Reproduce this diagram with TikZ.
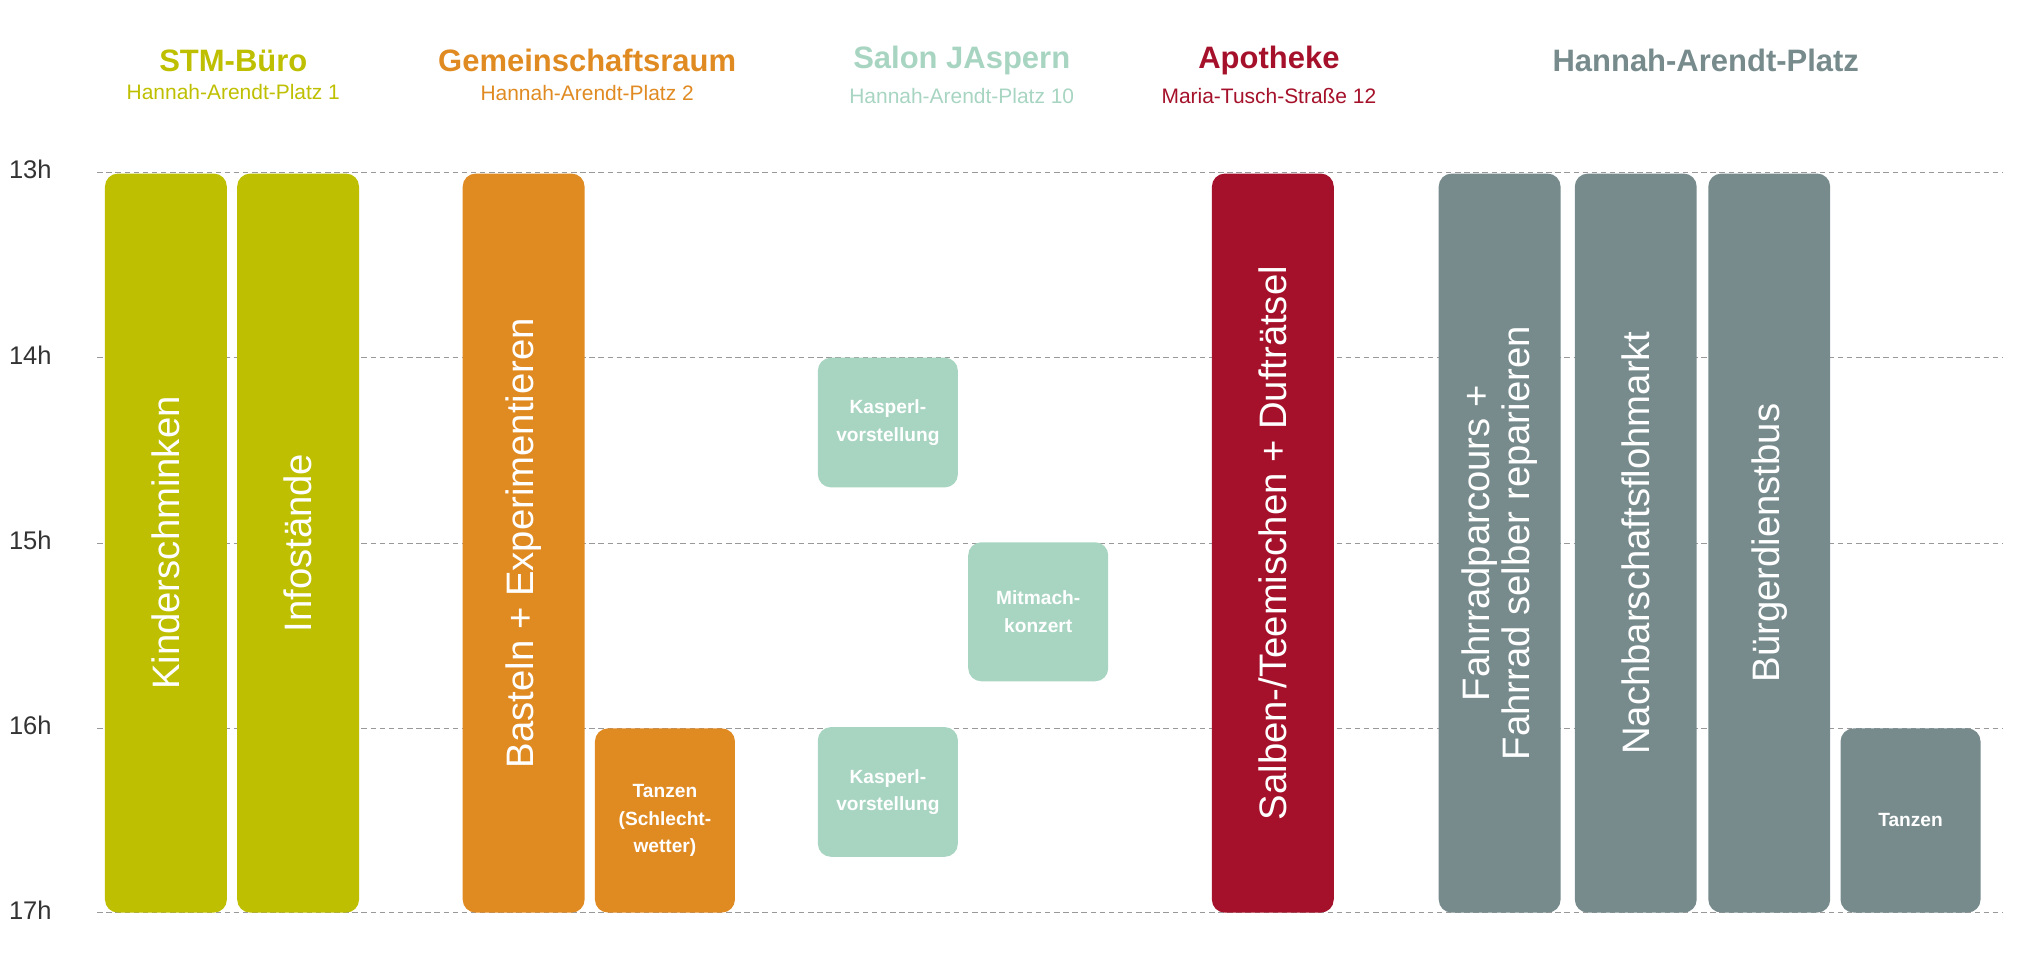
\documentclass[tikz,border=0pt]{standalone}
\usepackage{fontspec}
\setmainfont{Liberation Sans}
\usetikzlibrary{positioning}
\definecolor{lime}{HTML}{BEBF00}
\definecolor{orng}{HTML}{E08A22}
\definecolor{mint}{HTML}{A8D5C2}
\definecolor{wine}{HTML}{A5112A}
\definecolor{slate}{HTML}{778B8D}
\tikzset{
  head/.style={font=\bfseries\fontsize{17}{20}\selectfont},
  sub/.style={font=\fontsize{11.5}{14}\selectfont},
  hour/.style={font=\fontsize{14}{16}\selectfont, text=black!80, anchor=west},
  tall/.style={rectangle, rounded corners=0.25cm, fill=#1, text=white, rotate=90,
    minimum width=14.25cm, minimum height=2.35cm, inner sep=0pt,
    font=\fontsize{21}{22}\selectfont, align=center},
  box/.style={rectangle, rounded corners=0.25cm, fill=#1, text=white,
    minimum width=2.7cm, minimum height=2.5cm, inner sep=0pt,
    font=\bfseries\fontsize{10.5}{15}\selectfont, align=center},
}
\begin{document}
\begin{tikzpicture}[x=0.025cm, y=-0.025cm]
  \useasboundingbox (0,0) rectangle (1560,735);
  % hour grid
  \foreach \h/\y in {13/133,14/276,15/419,16/562,17/704}{
    \draw[black!40, densely dashed, line width=0.4pt] (75,\y) -- (1545,\y);
    \node[hour] at (2,\y-2) {\h h};
  }
  % headers
  \node[head, text=lime] (stm) at (180,47) {STM-Büro};
  \node[sub, text=lime, below=0pt of stm] {Hannah-Arendt-Platz 1};
  \node[head, text=orng] (gem) at (453,47) {Gemeinschaftsraum};
  \node[sub, text=orng, below=0pt of gem] {Hannah-Arendt-Platz 2};
  \node[head, text=mint] (sal) at (742,47) {Salon JAspern};
  \node[sub, text=mint, below=0pt of sal] {Hannah-Arendt-Platz 10};
  \node[head, text=wine] (apo) at (979,47) {Apotheke};
  \node[sub, text=wine, below=0pt of apo] {Maria-Tusch-Straße 12};
  \node[head, text=slate] (han) at (1316,47) {Hannah-Arendt-Platz};
  % events
  \node[tall=lime] (kinder) at (128,419) {Kinderschminken};
  \node[tall=lime] (info) at (230,419) {Infostände};
  \node[tall=orng] (bast) at (404,419) {Basteln + Experimentieren};
  \node[box=orng, minimum height=3.55cm] (tanz1) at (513,633) {Tanzen\\(Schlecht-\\wetter)};
  \node[box=mint] (kasp1) at (685,326) {Kasperl-\\vorstellung};
  \node[box=mint, minimum height=2.68cm] (mit) at (801,472) {Mitmach-\\konzert};
  \node[box=mint] (kasp2) at (685,611) {Kasperl-\\vorstellung};
  \node[tall=wine] (salb) at (982,419) {Salben-/Teemischen + Dufträtsel};
  \node[tall=slate] (fahr) at (1157,419) {Fahrradparcours +\\Fahrrad selber reparieren};
  \node[tall=slate] (nach) at (1262,419) {Nachbarschaftsflohmarkt};
  \node[tall=slate] (bus) at (1365,419) {Bürgerdienstbus};
  \node[box=slate, minimum height=3.55cm] (tanz2) at (1474,633) {Tanzen};
\end{tikzpicture}
\end{document}
